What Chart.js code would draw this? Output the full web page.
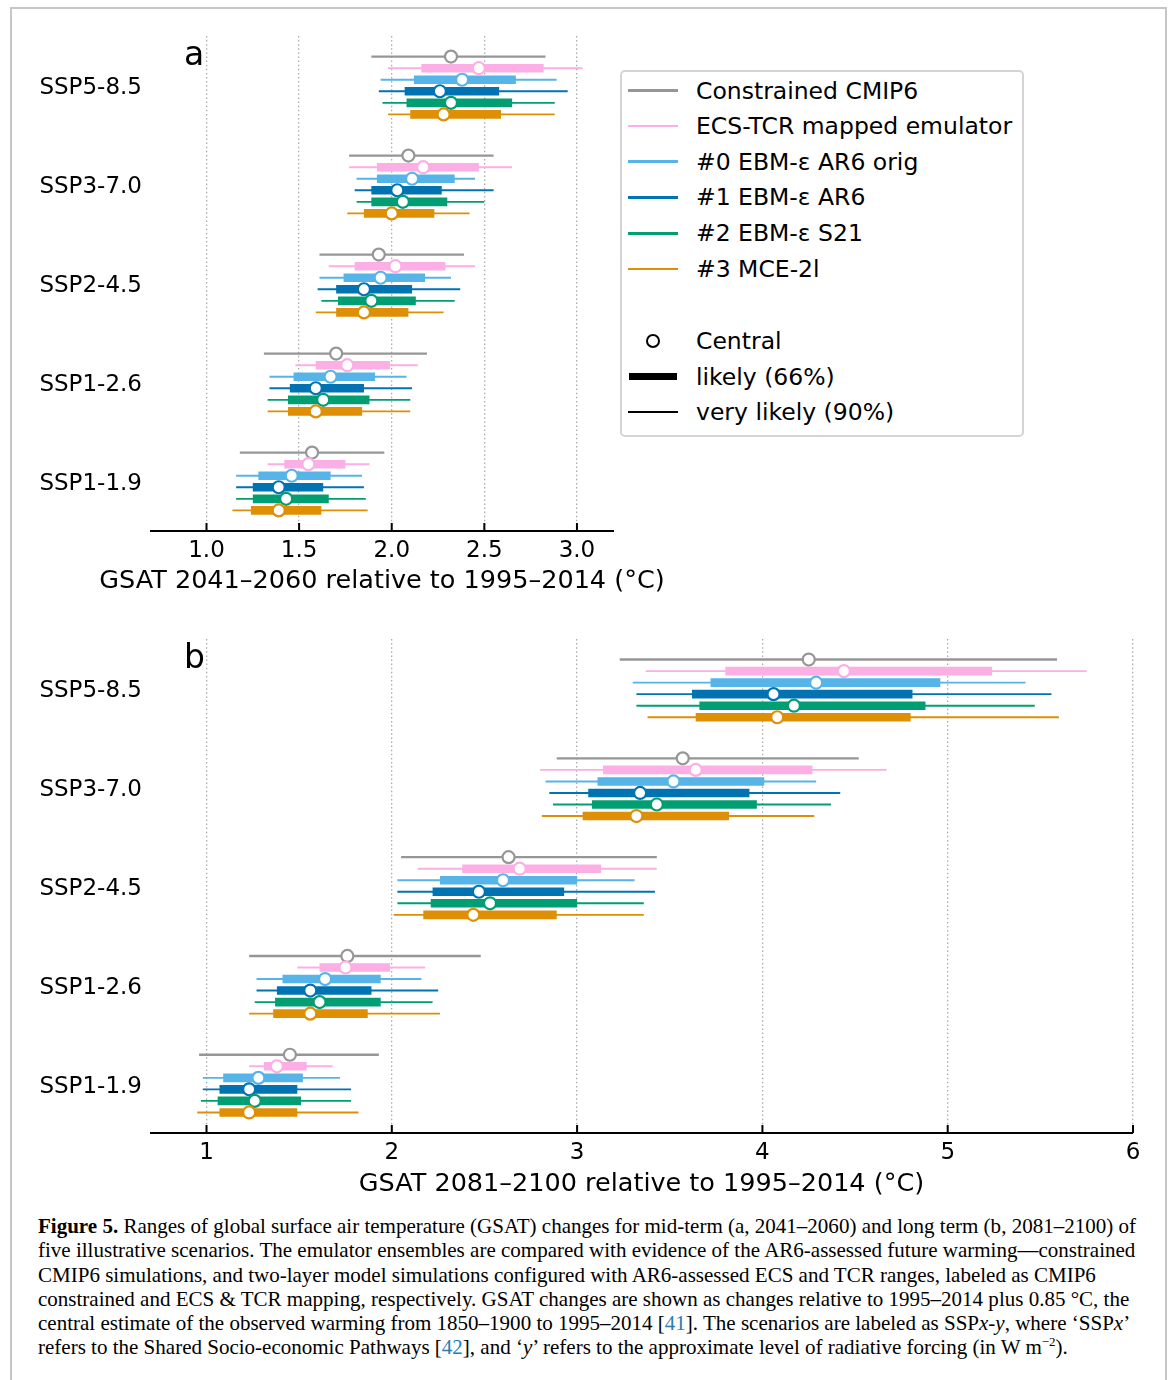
<!DOCTYPE html>
<html><head><meta charset="utf-8">
<script src="https://cdn.jsdelivr.net/npm/chart.js@4.4.1/dist/chart.umd.min.js"></script>
<style>
html,body{margin:0;padding:0;background:#fff;}
body{width:1173px;height:1380px;position:relative;overflow:hidden;font-family:'DejaVu Sans';color:#000;}
#frame{position:absolute;left:10px;top:7px;width:1157px;height:1420px;border:2px solid #c6c6c6;box-sizing:border-box;}
canvas{position:absolute;left:0;}
#ca{top:0;}
#cb{top:610px;}
.plab{position:absolute;font-family:'DejaVu Sans';font-size:33px;line-height:33px;}
#legend{position:absolute;left:620px;top:70px;width:404px;height:367px;border:2px solid #d4d4d4;border-radius:5px;box-sizing:border-box;background:#fff;}
.ls{position:absolute;}
.lt{position:absolute;left:696px;font-family:'DejaVu Sans';font-size:23.5px;line-height:30px;height:30px;white-space:nowrap;}
#cap{position:absolute;left:38px;top:1214px;font-family:'Liberation Serif';font-size:20px;line-height:24.3px;white-space:nowrap;}
#cap .ref{color:#2a7db5;}
</style></head>
<body>
<div id="frame"></div>
<canvas id="ca" width="720" height="610"></canvas>
<canvas id="cb" width="1173" height="600"></canvas>
<div class="plab" style="left:184px;top:37px;">a</div>
<div class="plab" style="left:184px;top:640px;">b</div>
<div id="legend"></div>
<div id="legendItems"></div>
<div id="cap">
<div><b>Figure 5.</b> Ranges of global surface air temperature (GSAT) changes for mid-term (a, 2041–2060) and long term (b, 2081–2100) of</div>
<div>five illustrative scenarios. The emulator ensembles are compared with evidence of the AR6-assessed future warming—constrained</div>
<div>CMIP6 simulations, and two-layer model simulations configured with AR6-assessed ECS and TCR ranges, labeled as CMIP6</div>
<div>constrained and ECS &amp; TCR mapping, respectively. GSAT changes are shown as changes relative to 1995–2014 plus 0.85 °C, the</div>
<div>central estimate of the observed warming from 1850–1900 to 1995–2014 [<span class="ref">41</span>]. The scenarios are labeled as SSP<i>x</i>-<i>y</i>, where ‘SSP<i>x</i>’</div>
<div>refers to the Shared Socio-economic Pathways [<span class="ref">42</span>], and ‘<i>y</i>’ refers to the approximate level of radiative forcing (in W m<sup style="font-size:13px;line-height:0;">−2</sup>).</div>
</div>
<script>
// ---------------- DATA ----------------
const scenarios = ['SSP5-8.5', 'SSP3-7.0', 'SSP2-4.5', 'SSP1-2.6', 'SSP1-1.9'];
const seriesNames = ['Constrained CMIP6', 'ECS-TCR mapped emulator', '#0 EBM-ε AR6 orig', '#1 EBM-ε AR6', '#2 EBM-ε S21', '#3 MCE-2l'];
const seriesColors = ['#969696', '#fbafe4', '#56b4e9', '#0173b2', '#029e73', '#de8f05'];
const xTicksA = [1.0, 1.5, 2.0, 2.5, 3.0];
const xTicksB = [1, 2, 3, 4, 5, 6];
const titleA = 'GSAT 2041–2060 relative to 1995–2014 (°C)';
const titleB = 'GSAT 2081–2100 relative to 1995–2014 (°C)';

// each row: [very likely low, likely low, central, likely high, very likely high]; rows in scenario order
// Panel a: GSAT 2041–2060
const midCmip6 = [[1.89, null, 2.32, null, 2.83], [1.77, null, 2.09, null, 2.55], [1.61, null, 1.93, null, 2.39], [1.31, null, 1.70, null, 2.19], [1.18, null, 1.57, null, 1.96]];
const midEcsTcr = [[1.98, 2.16, 2.47, 2.82, 3.03], [1.77, 1.92, 2.17, 2.47, 2.65], [1.66, 1.80, 2.02, 2.29, 2.45], [1.48, 1.59, 1.76, 1.99, 2.14], [1.33, 1.42, 1.55, 1.75, 1.88]];
const midEbm0 = [[1.94, 2.12, 2.38, 2.67, 2.89], [1.81, 1.92, 2.11, 2.34, 2.45], [1.61, 1.74, 1.94, 2.18, 2.32], [1.34, 1.47, 1.67, 1.91, 2.08], [1.16, 1.28, 1.46, 1.67, 1.84]];
const midEbm1 = [[1.93, 2.07, 2.26, 2.58, 2.95], [1.80, 1.89, 2.03, 2.27, 2.55], [1.60, 1.70, 1.85, 2.11, 2.37], [1.34, 1.45, 1.59, 1.85, 2.11], [1.16, 1.25, 1.39, 1.63, 1.85]];
const midEbm2 = [[1.95, 2.08, 2.32, 2.65, 2.88], [1.81, 1.89, 2.06, 2.30, 2.50], [1.62, 1.71, 1.89, 2.13, 2.34], [1.33, 1.44, 1.63, 1.88, 2.10], [1.16, 1.25, 1.43, 1.66, 1.86]];
const midMce = [[1.98, 2.10, 2.28, 2.59, 2.88], [1.76, 1.85, 2.00, 2.23, 2.42], [1.59, 1.70, 1.85, 2.09, 2.28], [1.33, 1.44, 1.59, 1.84, 2.10], [1.14, 1.24, 1.39, 1.62, 1.87]];
// Panel b: GSAT 2081–2100
const longCmip6 = [[3.23, null, 4.25, null, 5.59], [2.89, null, 3.57, null, 4.52], [2.05, null, 2.63, null, 3.43], [1.23, null, 1.76, null, 2.48], [0.96, null, 1.45, null, 1.93]];
const longEcsTcr = [[3.37, 3.80, 4.44, 5.24, 5.75], [2.80, 3.14, 3.64, 4.27, 4.67], [2.14, 2.38, 2.69, 3.13, 3.43], [1.49, 1.61, 1.75, 1.99, 2.18], [1.23, 1.31, 1.38, 1.54, 1.68]];
const longEbm0 = [[3.30, 3.72, 4.29, 4.96, 5.42], [2.83, 3.11, 3.52, 4.01, 4.29], [2.03, 2.26, 2.60, 3.00, 3.31], [1.27, 1.41, 1.64, 1.94, 2.16], [0.98, 1.09, 1.28, 1.52, 1.72]];
const longEbm1 = [[3.32, 3.62, 4.06, 4.81, 5.56], [2.85, 3.06, 3.34, 3.93, 4.42], [2.03, 2.22, 2.47, 2.93, 3.42], [1.27, 1.38, 1.56, 1.89, 2.25], [0.98, 1.07, 1.23, 1.49, 1.78]];
const longEbm2 = [[3.32, 3.66, 4.17, 4.88, 5.47], [2.87, 3.08, 3.43, 3.97, 4.37], [2.03, 2.21, 2.53, 3.00, 3.36], [1.26, 1.37, 1.61, 1.94, 2.22], [0.97, 1.06, 1.26, 1.51, 1.78]];
const longMce = [[3.38, 3.64, 4.08, 4.80, 5.60], [2.81, 3.03, 3.32, 3.82, 4.28], [2.01, 2.17, 2.44, 2.89, 3.36], [1.23, 1.36, 1.56, 1.87, 2.26], [0.95, 1.07, 1.23, 1.49, 1.82]];

// ---------------- LAYOUT / STYLE ----------------
const rowOffsets = [-0.292, -0.175, -0.058, 0.058, 0.175, 0.292];

Chart.defaults.font.family = "'DejaVu Sans'";
Chart.defaults.color = '#000';

function buildDatasets(panelSeries) {
  const ds = [];
  let seq = 0;
  panelSeries.forEach((series, k) => {
    const color = seriesColors[k];
    const wh = [], bx = [], ce = [];
    series.forEach((r, i) => {
      const y = i + rowOffsets[k];
      wh.push({x: r[0], y: y}, {x: r[4], y: y}, {x: null, y: null});
      if (r[1] !== null) bx.push({x: r[1], y: y}, {x: r[3], y: y}, {x: null, y: null});
      ce.push({x: r[2], y: y});
    });
    ds.push({data: wh, showLine: true, spanGaps: false, borderColor: color, borderWidth: k === 0 ? 2.4 : 1.9,
             borderCapStyle: 'butt', pointRadius: 0, order: 1000 - (seq++)});
    if (bx.length) ds.push({data: bx, showLine: true, spanGaps: false, borderColor: color, borderWidth: 8.6,
             borderCapStyle: 'butt', pointRadius: 0, order: 1000 - (seq++)});
    ds.push({data: ce, showLine: false, pointRadius: 6, pointBorderWidth: 2.2, pointBackgroundColor: '#ffffff',
             pointBorderColor: color, backgroundColor: '#ffffff', borderColor: color, order: 1000 - (seq++)});
  });
  return ds;
}

const axisPlugin = {
  id: 'axisLine',
  afterDatasetsDraw(chart, args, opts) {
    const {ctx, chartArea} = chart;
    const xs = chart.scales.x;
    ctx.save();
    ctx.strokeStyle = '#000';
    ctx.lineWidth = 2;
    ctx.setLineDash([]);
    ctx.beginPath();
    ctx.moveTo(chartArea.left, chartArea.bottom);
    ctx.lineTo(chartArea.right, chartArea.bottom);
    xs.ticks.forEach(t => {
      const px = xs.getPixelForValue(t.value);
      ctx.moveTo(px, chartArea.bottom);
      ctx.lineTo(px, chartArea.bottom - 8);
    });
    ctx.stroke();
    // axis title (drawn without width squeezing)
    ctx.fillStyle = '#000';
    ctx.font = "25.5px 'DejaVu Sans'";
    ctx.textAlign = 'center';
    ctx.textBaseline = 'middle';
    ctx.fillText(opts.text, (chartArea.left + chartArea.right) / 2, opts.y);
    ctx.restore();
  }
};

function makePanel(id, panelSeries, cfg) {
  return new Chart(document.getElementById(id), {
    type: 'scatter',
    data: {datasets: buildDatasets(panelSeries)},
    plugins: [axisPlugin],
    options: {
      responsive: false, animation: false, events: [],
      layout: {padding: {left: 0, right: cfg.padRight, top: cfg.padTop, bottom: 0}},
      plugins: {legend: {display: false}, tooltip: {enabled: false}, axisLine: {text: cfg.title, y: cfg.titleY}},
      scales: {
        x: {
          type: 'linear', min: cfg.min, max: cfg.max,
          afterFit: s => { s.height = cfg.axisH; },
          afterBuildTicks: s => { s.ticks = cfg.ticks.map(v => ({value: v})); },
          ticks: {callback: cfg.fmt, font: {size: 23}, color: '#000', padding: 6, maxRotation: 0, autoSkip: false},
          grid: {color: '#ababab', lineWidth: 1.3, drawTicks: false},
          border: {display: false, dash: [1.5, 2.6]},
          title: {display: false}
        },
        y: {
          type: 'linear', reverse: true, min: -0.5, max: 4.5,
          afterFit: s => { s.width = 150; },
          afterBuildTicks: s => { s.ticks = scenarios.map((n, i) => ({value: i})); },
          ticks: {callback: v => scenarios[Math.round(v)], font: {size: 23}, color: '#000', padding: 8, labelOffset: 3, autoSkip: false},
          grid: {display: false, drawTicks: false},
          border: {display: false}
        }
      }
    }
  });
}

makePanel('ca', [midCmip6, midEcsTcr, midEbm0, midEbm1, midEbm2, midMce], {
  min: 0.695, max: 3.2, ticks: xTicksA, fmt: v => Number(v).toFixed(1),
  padTop: 36, padRight: 106, axisH: 79, title: titleA, titleY: 581
});
makePanel('cb', [longCmip6, longEcsTcr, longEbm0, longEbm1, longEbm2, longMce], {
  min: 0.695, max: 6.0, ticks: xTicksB, fmt: v => String(v),
  padTop: 29, padRight: 40, axisH: 77, title: titleB, titleY: 574
});

// ---------------- LEGEND (HTML) ----------------
(function () {
  const host = document.getElementById('legendItems');
  const rowsY = [90.7, 125.8, 161.5, 197.3, 233.3, 269.0];
  let html = '';
  seriesNames.forEach((n, k) => {
    const y = rowsY[k];
    html += `<div class="ls" style="left:628px;top:${y - 1.3}px;width:50px;height:2.6px;background:${seriesColors[k]}"></div>`;
    html += `<div class="lt" style="top:${y - 15}px">${n}</div>`;
  });
  const yc = 341, yl = 376.7, yv = 411.7;
  html += `<div class="ls" style="left:646px;top:${yc - 7}px;width:10px;height:10px;border:2.2px solid #000;border-radius:50%;background:#fff"></div>`;
  html += `<div class="lt" style="top:${yc - 15}px">Central</div>`;
  html += `<div class="ls" style="left:629px;top:${yl - 3.7}px;width:48px;height:7.4px;background:#000"></div>`;
  html += `<div class="lt" style="top:${yl - 15}px">likely (66%)</div>`;
  html += `<div class="ls" style="left:628px;top:${yv - 1}px;width:50px;height:2px;background:#000"></div>`;
  html += `<div class="lt" style="top:${yv - 15}px">very likely (90%)</div>`;
  host.innerHTML = html;
})();

// fit caption width to reference
(function () {
  const cap = document.getElementById('cap');
  const first = cap.firstElementChild;
  const range = document.createRange();
  range.selectNodeContents(first);
  const w = range.getBoundingClientRect().width;
  if (w > 0) cap.style.fontSize = (20 * 1098 / w).toFixed(2) + 'px';
})();
</script>
</body></html>
